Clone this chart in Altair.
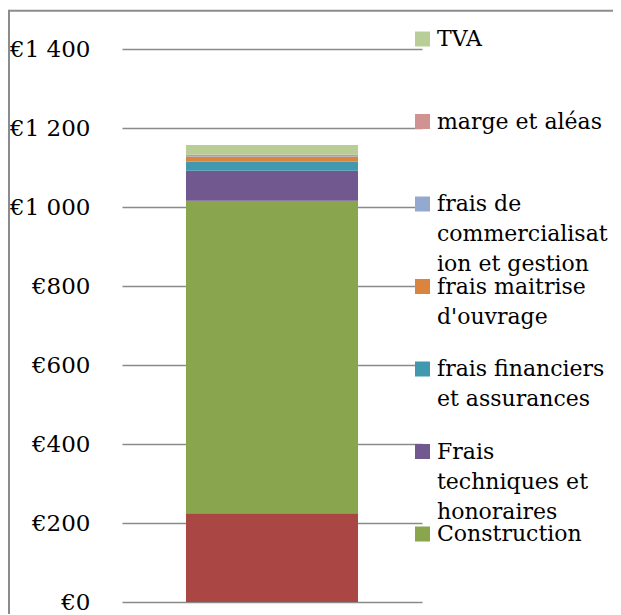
import altair as alt
import pandas as pd

# ---- data (bottom of the stack first) ----
categories = [
    "Charge foncière",
    "Construction",
    "Frais techniques et honoraires",
    "frais financiers et assurances",
    "frais maitrise d'ouvrage",
    "frais de commercialisation et gestion",
    "marge et aléas",
    "TVA",
]
values = [225, 791, 76, 23, 13, 1, 3, 25]
colors = ["#AA4643", "#89A54E", "#71588F", "#4198AF", "#DB843D", "#93A9CF", "#D19392", "#B9CD96"]

# legend entries (top to bottom) and their wrapped label lines
legend_entries = [
    "TVA",
    "marge et aléas",
    "frais de commercialisation et gestion",
    "frais maitrise d'ouvrage",
    "frais financiers et assurances",
    "Frais techniques et honoraires",
    "Construction",
]
legend_lines = [
    ["TVA"],
    ["marge et aléas"],
    ["frais de", "commercialisat", "ion et gestion"],
    ["frais maitrise", "d'ouvrage"],
    ["frais financiers", "et assurances"],
    ["Frais", "techniques et", "honoraires"],
    ["Construction"],
]
y_ticks = [0, 200, 400, 600, 800, 1000, 1200, 1400]

df = pd.DataFrame({
    "poste": categories,
    "valeur": values,
    "ordre": list(range(len(categories))),
    "groupe": ["Coût"] * len(categories),
})
legend_df = pd.DataFrame({"poste": legend_entries, "lignes": legend_lines})

FONT = "DejaVu Serif"
color_scale = alt.Scale(domain=categories, range=colors)

bars = alt.Chart(df).mark_bar().encode(
    x=alt.X("groupe:N", axis=None,
            scale=alt.Scale(paddingInner=0, paddingOuter=0.372)),
    y=alt.Y("valeur:Q", stack="zero",
            scale=alt.Scale(domain=[0, 1400], nice=False),
            axis=alt.Axis(values=y_ticks, title=None, domain=False, ticks=False,
                          tickSize=0, grid=True, gridColor="#8a8a8a", gridWidth=1.5,
                          labelPadding=32, labelFont=FONT, labelFontSize=23,
                          labelColor="#000000",
                          labelExpr="'€' + replace(format(datum.value, ','), ',', ' ')")),
    color=alt.Color("poste:N", scale=color_scale, legend=None),
    order=alt.Order("ordre:Q", sort="ascending"),
)

legend_y = alt.Y("poste:N", sort=legend_entries, axis=None,
                 scale=alt.Scale(type="point", domain=legend_entries,
                                 range=[-10, 485], padding=0))

legend_symbols = alt.Chart(legend_df).mark_square(size=225, opacity=1).encode(
    y=legend_y,
    x=alt.value(300.5),
    color=alt.Color("poste:N", scale=color_scale, legend=None),
)

legend_labels = alt.Chart(legend_df).mark_text(
    align="left", baseline="middle", font=FONT, fontSize=22,
    lineHeight=30, color="#000000"
).encode(
    y=legend_y,
    x=alt.value(315),
    text="lignes:N",
)

frame_df = pd.DataFrame({"cadre": [0]})
frame_top = alt.Chart(frame_df).mark_rule(stroke="#8c8c8c", strokeWidth=2).encode(
    x=alt.value(-113), x2=alt.value(600), y=alt.value(-38.3),
)
frame_left = alt.Chart(frame_df).mark_rule(stroke="#8c8c8c", strokeWidth=2).encode(
    x=alt.value(-113), y=alt.value(-39.3), y2=alt.value(600),
)

chart = alt.layer(bars, legend_symbols, legend_labels, frame_top, frame_left).resolve_scale(
    y="independent"
).properties(
    width=300, height=553,
    autosize=alt.AutoSizeParams(type="none"),
    padding={"left": 114, "top": 41, "right": 191, "bottom": 12},
).configure(
    background="#ffffff",
).configure_view(stroke=None)

chart.save("out.html", embed_options={"renderer": "svg", "actions": False})
